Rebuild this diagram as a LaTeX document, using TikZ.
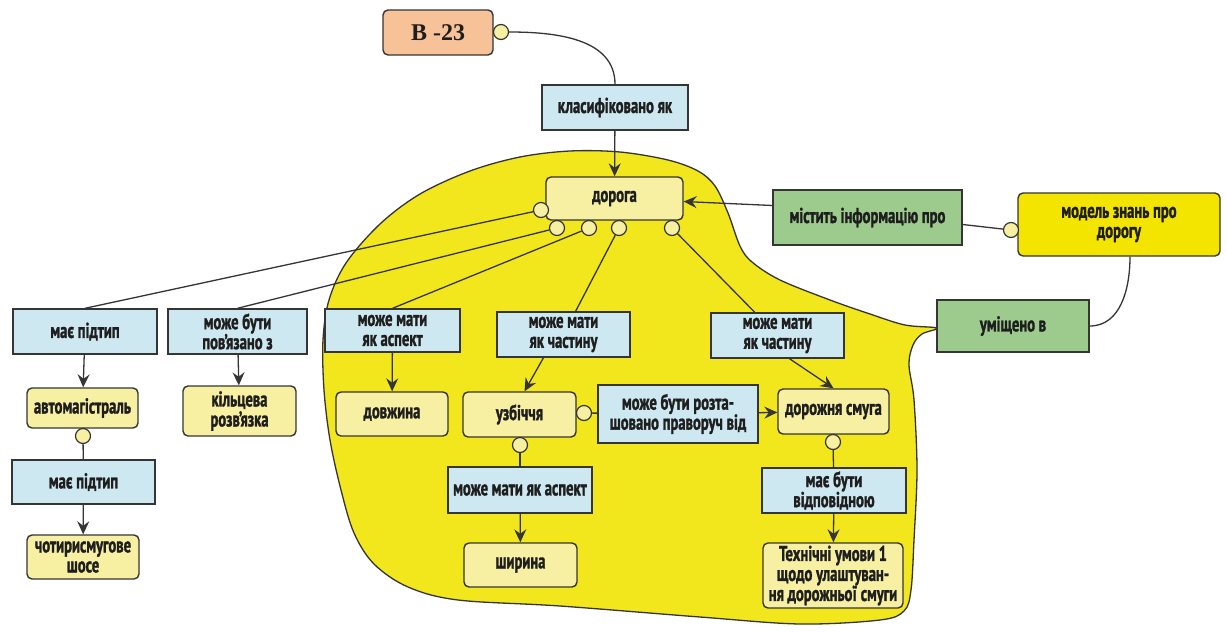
\documentclass[tikz,border=0pt]{standalone}
\usepackage{fontspec}
\setmainfont{PT Sans}[FakeStretch=0.68, FakeBold=1.3]
\newfontfamily\serifb{Liberation Serif}
\usetikzlibrary{arrows.meta}
\definecolor{relblue}{HTML}{CDE8F0}
\definecolor{concept}{HTML}{F7F0A2}
\definecolor{blob}{HTML}{F2E61C}
\definecolor{greenrel}{HTML}{9DCB8D}
\definecolor{orangec}{HTML}{F8C299}
\definecolor{modely}{HTML}{F3E500}
\definecolor{ink}{HTML}{1E1E1E}
\begin{document}
\begin{tikzpicture}[x=1pt,y=-1pt,
  box/.style={draw=ink!90, line width=1.4pt, text=ink, font=\fontsize{21.5}{20}\selectfont\bfseries, align=center, inner sep=1pt},
  wh/.style 2 args={minimum width=#1pt, minimum height=#2pt},
  rel/.style={box, fill=relblue},
  con/.style={box, fill=concept, rounded corners=5pt},
  grn/.style={box, fill=greenrel},
  port/.style={circle, draw=ink!90, line width=1.2pt, fill=concept, minimum size=15pt, inner sep=0pt},
  link/.style={draw=ink!90, line width=1.3pt},
  arr/.style={link, -{Stealth[length=13pt,width=12pt,inset=4.5pt]}},
]
\useasboundingbox[fill=white] (0,0) rectangle (1227,632);

% yellow region enclosing the road model
\draw[fill=blob, draw=ink!90, line width=1.3pt] plot[smooth cycle, tension=0.55] coordinates {
  (937,328) (905,325) (870,314) (830,300) (780,280) (752,262) (740,246)
  (728,213) (715,186) (698,171) (668,160) (620,152) (570,151) (520,157)
  (470,171) (420,194) (380,224) (346,263) (329,300) (323,340) (324,390)
  (330,440) (341,490) (354,533) (374,564) (408,587) (458,600) (560,606)
  (700,617) (800,624) (880,620) (904,611) (911,590) (914,540) (917,470)
  (914,400) (909,365) (913,345) (922,334)};

% concepts and relations
\node[con, fill=orangec, wh={110}{45}, font=\serifb\fontsize{24}{26}\selectfont\bfseries] (b23) at (438,32.5) {В -23};
\node[rel, wh={146}{45}] (klas) at (615,107.5) {класифіковано як};
\node[con, wh={137}{43}] (doroga) at (614.5,198.5) {дорога};
\node[grn, wh={189}{55}] (mistyt) at (867.5,217.5) {містить інформацію про};
\node[con, fill=modely, wh={202}{63}] (model) at (1119,224.5) {модель знань про\\дорогу};
\node[grn, wh={152}{52}] (umish) at (1013,326) {уміщено в};

\node[rel, wh={144}{45}] (mp1) at (85,331.5) {має підтип};
\node[rel, wh={139}{45}] (mbp) at (237.5,331.5) {може бути\\пов'язано з};
\node[rel, wh={135}{43}] (mma1) at (392.5,330.5) {може мати\\як аспект};
\node[rel, wh={133}{45}] (mmc1) at (563.5,334.5) {може мати\\як частину};
\node[rel, wh={133}{45}] (mmc2) at (777.5,335.5) {може мати\\як частину};

\node[con, wh={111}{40}] (avto) at (82.5,408) {автомагістраль};
\node[con, wh={113}{50}] (kilts) at (239.5,411) {кільцева\\розв’язка};
\node[con, wh={112}{44}] (dovzh) at (392,414) {довжина};
\node[con, wh={113}{45}] (uzb) at (519.5,414.5) {узбіччя};
\node[rel, wh={160}{58}] (rozt) at (678,414) {може бути розта-\\шовано праворуч від};
\node[con, wh={111}{45}] (dsmuga) at (833.5,411.5) {дорожня смуга};

\node[rel, wh={143}{44}] (mp2) at (83.5,482) {має підтип};
\node[con, wh={112}{44}] (chot) at (83,557) {чотирисмугове\\шосе};
\node[rel, wh={144}{46}] (mma2) at (520,490) {може мати як аспект};
\node[con, wh={113}{44}] (shyr) at (520.5,565) {ширина};
\node[rel, wh={144}{45}] (mbv) at (834,490.5) {має бути\\відповідною};
\node[con, wh={140}{65}] (tekh) at (833,575.5) {Технічні умови 1\\щодо улаштуван-\\ня дорожньої смуги};

% ports
\node[port] (pb) at (501,32) {};
\node[port] (d0) at (541,210) {};
\node[port] (d1) at (557,228) {};
\node[port] (d2) at (589,228) {};
\node[port] (d3) at (619,228) {};
\node[port] (d4) at (672,228) {};
\node[port] (pm) at (1011,230) {};
\node[port] (pa) at (83,436) {};
\node[port] (pu1) at (584,413) {};
\node[port] (pu2) at (520,445) {};
\node[port] (ps) at (833,442) {};

% connectors
\draw[link] (pb) to[out=0,in=90] (klas.north);
\draw[arr] (klas) -- (doroga);
\draw[arr] ([yshift=12pt]mistyt.west) -- ([yshift=-3pt]doroga.east);
\draw[link] (pm) -- ([yshift=-7pt]mistyt.east);
\draw[link] ([xshift=11pt]model.south) to[out=-90,in=0] (umish.east);
\draw[link] (d0) -- (mp1.north);
\draw[link] (d1) -- (mbp.north);
\draw[link] (d2) -- (mma1.north);
\draw[link] (d3) -- (mmc1);
\draw[link] (d4) -- (mmc2);
\draw[arr] (mp1) -- (avto);
\draw[arr] (mbp) -- (kilts);
\draw[arr] (mma1) -- (dovzh);
\draw[arr] ([xshift=-20pt]mmc1.south) -- ([xshift=5pt]uzb.north);
\draw[arr] ([xshift=12pt]mmc2.south) -- (dsmuga.north);
\draw[link] (pu1) -- (rozt);
\draw[arr] (rozt) -- (dsmuga);
\draw[link] (pu2) -- (mma2);
\draw[arr] (mma2) -- (shyr);
\draw[link] (ps) -- (mbv);
\draw[arr] (mbv) -- (tekh);
\draw[link] (pa) -- (mp2);
\draw[arr] (mp2) -- (chot);
\end{tikzpicture}
\end{document}
